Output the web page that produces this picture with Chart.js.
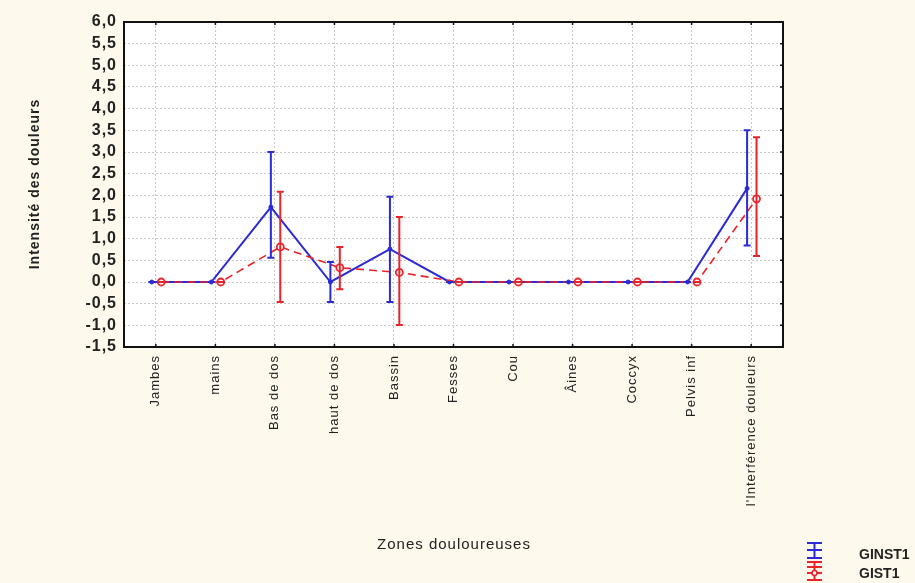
<!DOCTYPE html>
<html>
<head>
<meta charset="utf-8">
<script src="https://cdn.jsdelivr.net/npm/chart.js@4/dist/chart.umd.min.js"></script>
<style>
  html, body { margin: 0; padding: 0; background: #fdf9ec; }
  #wrap { width: 915px; height: 583px; }
</style>
</head>
<body>
<div id="wrap"><canvas id="c" width="915" height="583"></canvas></div>
<script>
// ---- data ----
const categories = ["Jambes", "mains", "Bas de dos", "haut de dos", "Bassin", "Fesses", "Cou", "Âines", "Coccyx", "Pelvis inf", "l'Interférence douleurs"];
const ginstMean = [0, 0, 1.73, 0, 0.76, 0, 0, 0, 0, 0, 2.16];
const ginstLow  = [0, 0, 0.56, -0.46, -0.46, 0, 0, 0, 0, 0, 0.84];
const ginstHigh = [0, 0, 3.00, 0.46, 1.97, 0, 0, 0, 0, 0, 3.50];
const gistMean  = [0, 0, 0.81, 0.33, 0.22, 0, 0, 0, 0, 0, 1.92];
const gistLow   = [0, 0, -0.46, -0.17, -0.99, 0, 0, 0, 0, 0, 0.60];
const gistHigh  = [0, 0, 2.08, 0.81, 1.50, 0, 0, 0, 0, 0, 3.34];
const seriesNames = ["GINST1", "GIST1"];
const yMin = -1.5, yMax = 6.0, yStep = 0.5;
const xAxisTitle = "Zones douloureuses";
const yAxisTitle = "Intensité des douleurs";

// ---- style ----
const BLUE = "#2a2ad6";
const RED = "#e8242a";
const BG = "#fdf9ec";
const offsets = [-0.068, 0.09];

const toPoints = (vals, off) => vals.map((v, i) => ({ x: i + off, y: v }));

const bgPlugin = {
  id: "bg",
  beforeDraw(chart) {
    const { ctx, chartArea: a } = chart;
    ctx.save();
    ctx.fillStyle = BG;
    ctx.fillRect(0, 0, chart.width, chart.height);
    ctx.fillStyle = "#ffffff";
    ctx.fillRect(a.left, a.top, a.right - a.left, a.bottom - a.top);
    ctx.restore();
    ctx.letterSpacing = "1px";
  }
};

const errPlugin = {
  id: "err",
  afterDatasetsDraw(chart) {
    const { ctx } = chart;
    const xs = chart.scales.x, ys = chart.scales.y;
    const sets = [
      { low: ginstLow, high: ginstHigh, color: BLUE, off: offsets[0] },
      { low: gistLow, high: gistHigh, color: RED, off: offsets[1] }
    ];
    ctx.save();
    sets.forEach(s => {
      ctx.strokeStyle = s.color;
      ctx.lineWidth = 2;
      s.low.forEach((lo, i) => {
        const x = xs.getPixelForValue(i + s.off);
        const y1 = ys.getPixelForValue(lo);
        const y2 = ys.getPixelForValue(s.high[i]);
        ctx.beginPath();
        ctx.moveTo(x, y1); ctx.lineTo(x, y2);
        ctx.moveTo(x - 3.5, y1); ctx.lineTo(x + 3.5, y1);
        ctx.moveTo(x - 3.5, y2); ctx.lineTo(x + 3.5, y2);
        ctx.stroke();
      });
    });
    ctx.restore();
  },
  afterDraw(chart) {
    const { ctx, chartArea: a } = chart;
    const xs = chart.scales.x, ys = chart.scales.y;
    ctx.save();
    // frame
    ctx.strokeStyle = "#111";
    ctx.lineWidth = 2;
    ctx.strokeRect(a.left, a.top, a.right - a.left, a.bottom - a.top);
    // small ticks on frame
    ctx.lineWidth = 1.5;
    ctx.beginPath();
    categories.forEach((c, i) => {
      const x = xs.getPixelForValue(i);
      ctx.moveTo(x, a.bottom); ctx.lineTo(x, a.bottom - 3);
      ctx.moveTo(x, a.top); ctx.lineTo(x, a.top + 3);
    });
    for (let v = yMin; v <= yMax + 1e-9; v += yStep) {
      const y = ys.getPixelForValue(v);
      ctx.moveTo(a.right, y); ctx.lineTo(a.right - 3, y);
    }
    ctx.stroke();

    // axis titles
    ctx.fillStyle = "#222";
    ctx.letterSpacing = "1px";
    ctx.font = '15px "Liberation Sans", Arial, sans-serif';
    ctx.textAlign = "center";
    ctx.textBaseline = "middle";
    ctx.fillText(xAxisTitle, 454, 545);
    ctx.save();
    ctx.translate(35, 184);
    ctx.rotate(-Math.PI / 2);
    ctx.letterSpacing = "1px";
    ctx.font = 'bold 14px "Liberation Sans", Arial, sans-serif';
    ctx.fillText(yAxisTitle, 0, 0);
    ctx.restore();

    // legend
    const lx = 807, lw = 15, cx = lx + lw / 2;
    ctx.lineWidth = 2;
    ctx.strokeStyle = BLUE;
    ctx.beginPath();
    ctx.moveTo(cx, 543); ctx.lineTo(cx, 558);
    ctx.moveTo(lx, 543); ctx.lineTo(lx + lw, 543);
    ctx.moveTo(lx, 550); ctx.lineTo(lx + lw, 550);
    ctx.moveTo(lx, 558); ctx.lineTo(lx + lw, 558);
    ctx.stroke();
    ctx.strokeStyle = RED;
    ctx.beginPath();
    ctx.moveTo(cx, 562); ctx.lineTo(cx, 580);
    ctx.moveTo(lx, 562); ctx.lineTo(lx + lw, 562);
    ctx.moveTo(lx, 580); ctx.lineTo(lx + lw, 580);
    ctx.moveTo(lx, 567); ctx.lineTo(lx + lw, 567);
    ctx.moveTo(lx, 573); ctx.lineTo(lx + lw, 573);
    ctx.stroke();
    ctx.fillStyle = "#fff";
    ctx.lineWidth = 1.5;
    ctx.beginPath(); ctx.arc(cx, 573, 2.5, 0, Math.PI * 2); ctx.fill(); ctx.stroke();

    ctx.fillStyle = "#222";
    ctx.letterSpacing = "0px";
    ctx.font = 'bold 14px "Liberation Sans", Arial, sans-serif';
    ctx.textAlign = "left";
    ctx.fillText(seriesNames[0], 859, 555);
    ctx.fillText(seriesNames[1], 859, 574);
    ctx.restore();
  }
};

new Chart(document.getElementById("c"), {
  type: "line",
  data: {
    datasets: [
      {
        label: seriesNames[1],
        data: toPoints(gistMean, offsets[1]),
        borderColor: RED,
        borderWidth: 1.6,
        borderDash: [8, 5],
        pointRadius: 3.5,
        pointBackgroundColor: "#ffffff",
        pointBorderColor: RED,
        pointBorderWidth: 1.8,
        tension: 0
      },
      {
        label: seriesNames[0],
        data: toPoints(ginstMean, offsets[0]),
        borderColor: BLUE,
        borderWidth: 2,
        pointRadius: 2,
        pointBackgroundColor: BLUE,
        pointBorderColor: BLUE,
        pointBorderWidth: 1,
        tension: 0
      }
    ]
  },
  options: {
    responsive: false,
    animation: false,
    layout: { padding: { left: 0, right: 132, top: 22, bottom: 0 } },
    plugins: { legend: { display: false }, tooltip: { enabled: false } },
    scales: {
      x: {
        type: "linear",
        min: -0.535,
        max: 10.535,
        afterBuildTicks: s => { s.ticks = categories.map((c, i) => ({ value: i })); },
        afterFit: s => { s.height = 236; },
        ticks: {
          callback: v => categories[v],
          minRotation: 90,
          maxRotation: 90,
          autoSkip: false,
          padding: 8,
          color: "#222",
          font: { family: '"Liberation Sans", Arial, sans-serif', size: 13 }
        },
        grid: { color: "#c8c8c8", lineWidth: 1, drawTicks: false },
        border: { display: false, dash: [2, 2] }
      },
      y: {
        min: yMin,
        max: yMax,
        afterFit: s => { s.width = 124; },
        ticks: {
          stepSize: yStep,
          autoSkip: false,
          callback: v => v.toFixed(1).replace(".", ","),
          padding: 7,
          color: "#222",
          font: { family: '"Liberation Sans", Arial, sans-serif', size: 16, weight: "bold" }
        },
        grid: { color: "#c8c8c8", lineWidth: 1, drawTicks: false },
        border: { display: false, dash: [2, 2] }
      }
    }
  },
  plugins: [bgPlugin, errPlugin]
});
</script>
</body>
</html>
